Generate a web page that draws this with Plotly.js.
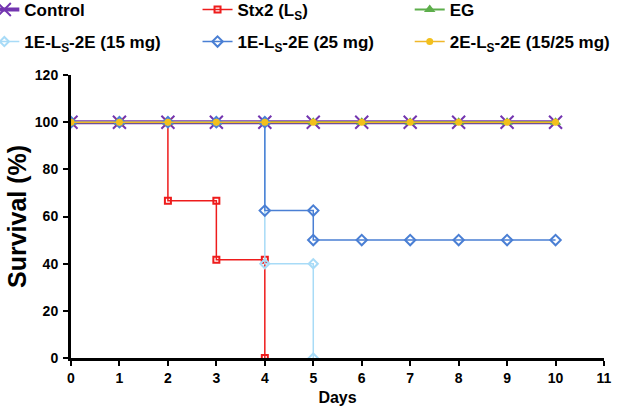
<!DOCTYPE html>
<html>
<head>
<meta charset="utf-8">
<script src="https://cdn.plot.ly/plotly-3.0.1.min.js"></script>
<style>
  html, body { margin: 0; padding: 0; background: #fff; }
  #chart { width: 618px; height: 410px; }
</style>
</head>
<body>
<div id="chart"></div>
<script>
// Survival (%) by day for each treatment group (step data: repeated days mark drops)
const controlDays = [0, 1, 2, 3, 4, 5, 6, 7, 8, 9, 10];
const controlSurv = [100, 100, 100, 100, 100, 100, 100, 100, 100, 100, 100];

const stx2Days = [0, 1, 2, 2, 3, 3, 4, 4];
const stx2Surv = [100, 100, 100, 66.7, 66.7, 41.7, 41.7, 0];

const egDays = [0, 1, 2, 3, 4, 5, 6, 7, 8, 9, 10];
const egSurv = [100, 100, 100, 100, 100, 100, 100, 100, 100, 100, 100];

const e15Days = [0, 1, 2, 3, 4, 4, 5, 5];
const e15Surv = [100, 100, 100, 100, 100, 40, 40, 0];

const e25Days = [0, 1, 2, 3, 4, 4, 5, 5, 6, 7, 8, 9, 10];
const e25Surv = [100, 100, 100, 100, 100, 62.5, 62.5, 50, 50, 50, 50, 50, 50];

const e2Days = [0, 1, 2, 3, 4, 5, 6, 7, 8, 9, 10];
const e2Surv = [100, 100, 100, 100, 100, 100, 100, 100, 100, 100, 100];

const xTicks = [0, 1, 2, 3, 4, 5, 6, 7, 8, 9, 10, 11];
const yTicks = [0, 20, 40, 60, 80, 100, 120];

const FONT = 'Liberation Sans, Arial, sans-serif';

// Drawing order: thick control line underneath, gold circles on top
const traces = [
  {
    name: 'Control', x: controlDays, y: controlSurv, mode: 'lines+markers',
    legend: 'legend',
    line: { color: '#7335B0', width: 4 },
    marker: { symbol: 'x-thin-open', size: 13, line: { color: '#7335B0', width: 2 } }
  },
  {
    name: 'EG', x: egDays, y: egSurv, mode: 'lines+markers',
    legend: 'legend3',
    line: { color: '#5DAE4B', width: 2 },
    marker: { symbol: 'triangle-up', size: 10, color: '#5DAE4B' }
  },
  {
    name: 'Stx2 (L<sub>S</sub>)', x: stx2Days, y: stx2Surv, mode: 'lines+markers',
    legend: 'legend2',
    line: { color: '#EE1C1C', width: 1.5 },
    marker: { symbol: 'square-open', size: 6, color: '#EE1C1C', line: { width: 2 } }
  },
  {
    name: '1E-L<sub>S</sub>-2E (15 mg)', x: e15Days, y: e15Surv, mode: 'lines+markers',
    legend: 'legend4',
    line: { color: '#A8DBF7', width: 1.5 },
    marker: { symbol: 'diamond-open', size: 7, color: '#A8DBF7', line: { width: 2 } }
  },
  {
    name: '1E-L<sub>S</sub>-2E (25 mg)', x: e25Days, y: e25Surv, mode: 'lines+markers',
    legend: 'legend5',
    line: { color: '#4A7FD4', width: 1.5 },
    marker: { symbol: 'diamond-open', size: 8, color: '#4A7FD4', line: { width: 2 } }
  },
  {
    name: '2E-L<sub>S</sub>-2E (15/25 mg)', x: e2Days, y: e2Surv, mode: 'lines+markers',
    legend: 'legend6',
    line: { color: '#F0B72A', width: 1.5 },
    marker: { symbol: 'circle', size: 7, color: '#F2C01C' }
  }
];

// One legend box per entry, laid out as a 3 x 2 grid above the plot
function legendAt(x, y) {
  return {
    orientation: 'h', xanchor: 'left', yanchor: 'middle', x: x, y: y,
    itemwidth: 30,
    font: { family: FONT, size: 17, color: '#000', weight: 'bold' },
    bgcolor: 'rgba(0,0,0,0)'
  };
}
const colX = [-0.1626, 0.2374, 0.6355];
const rowY = [1.2297, 1.1166];

const layout = {
  width: 618, height: 410,
  margin: { l: 71, r: 14, t: 75, b: 52, autoexpand: false },
  paper_bgcolor: '#fff', plot_bgcolor: '#fff',
  showlegend: true,
  legend: legendAt(colX[0], rowY[0]),
  legend2: legendAt(colX[1], rowY[0]),
  legend3: legendAt(colX[2], rowY[0]),
  legend4: legendAt(colX[0], rowY[1]),
  legend5: legendAt(colX[1], rowY[1]),
  legend6: legendAt(colX[2], rowY[1]),
  xaxis: {
    range: [0, 11], tickvals: xTicks, ticktext: xTicks.map(String),
    showgrid: false, zeroline: false,
    showline: true, linecolor: '#000', linewidth: 3,
    ticks: 'outside', ticklen: 5, tickwidth: 2, tickcolor: '#000',
    tickfont: { family: FONT, size: 14, color: '#000', weight: 'bold' },
    title: { text: 'Days', font: { family: FONT, size: 16, color: '#000', weight: 'bold' }, standoff: 8 }
  },
  yaxis: {
    range: [0, 120], tickvals: yTicks, ticktext: yTicks.map(String),
    showgrid: false, zeroline: false,
    showline: true, linecolor: '#000', linewidth: 3,
    ticks: 'outside', ticklen: 5, tickwidth: 2, tickcolor: '#000',
    ticklabelstandoff: 2,
    tickfont: { family: FONT, size: 14, color: '#000', weight: 'bold' },
    title: { text: 'Survival (%)', font: { family: FONT, size: 25, color: '#000', weight: 'bold' }, standoff: 2 }
  }
};

Plotly.newPlot('chart', traces, layout, { displayModeBar: false, staticPlot: true });
</script>
</body>
</html>
